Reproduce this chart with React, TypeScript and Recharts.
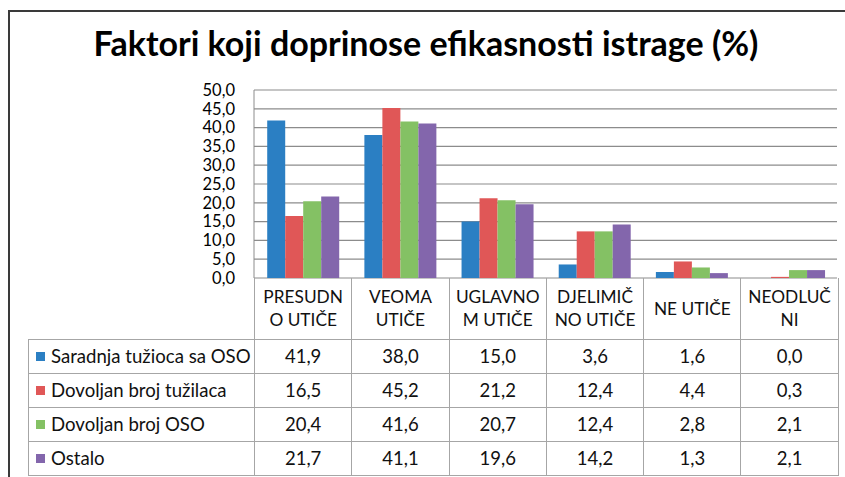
import React from 'react';
import { BarChart, Bar, XAxis, YAxis, CartesianGrid } from 'recharts';

const categories = ['PRESUDNO UTIČE', 'VEOMA UTIČE', 'UGLAVNOM UTIČE', 'DJELIMIČNO UTIČE', 'NE UTIČE', 'NEODLUČNI'];
const categoryLines = [
  ['PRESUDN', 'O UTIČE'],
  ['VEOMA', 'UTIČE'],
  ['UGLAVNO', 'M UTIČE'],
  ['DJELIMIČ', 'NO UTIČE'],
  ['NE UTIČE'],
  ['NEODLUČ', 'NI'],
];
const seriesNames = ['Saradnja tužioca sa OSO', 'Dovoljan broj tužilaca', 'Dovoljan broj OSO', 'Ostalo'];
const saradnja = [41.9, 38.0, 15.0, 3.6, 1.6, 0.0];
const tuzilaca = [16.5, 45.2, 21.2, 12.4, 4.4, 0.3];
const oso = [20.4, 41.6, 20.7, 12.4, 2.8, 2.1];
const ostalo = [21.7, 41.1, 19.6, 14.2, 1.3, 2.1];
const yTicks = [0, 5, 10, 15, 20, 25, 30, 35, 40, 45, 50];

const seriesValues = [saradnja, tuzilaca, oso, ostalo];
const colors = ['#2B7FC3', '#E05757', '#84C164', '#8366AC'];
const keys = ['s0', 's1', 's2', 's3'];

const data = categories.map((c, i) => ({
  name: c,
  s0: saradnja[i],
  s1: tuzilaca[i],
  s2: oso[i],
  s3: ostalo[i],
}));

const fmt = (v: number) => v.toFixed(1).replace('.', ',');
const font = 'Lato, "Open Sans", sans-serif';
const line = '1px solid #a6a6a6';

export default function App() {
  return (
    <div style={{ position: 'absolute', left: 0, top: 0, width: 845, height: 477, background: '#fff', overflow: 'hidden', fontFamily: font }}>
      <div style={{ position: 'absolute', left: 8, top: 10, width: 900, height: 500, border: '2px solid #3a3a3a' }} />
      <div style={{ position: 'absolute', left: 0, top: 22, width: 852, textAlign: 'center', fontSize: 34, fontWeight: 700, color: '#000' }}>
        Faktori koji doprinose efikasnosti istrage (%)
      </div>
      <div style={{ position: 'absolute', left: 0, top: 0 }}>
        <BarChart
          width={845}
          height={477}
          data={data}
          margin={{ top: 90, right: 8, bottom: 199, left: 194 }}
          barCategoryGap="13.6%"
          barGap={0}
        >
          <CartesianGrid vertical={false} stroke="#8c8c8c" strokeWidth={1.2} />
          <XAxis dataKey="name" height={0} tick={false} tickLine={false} axisLine={{ stroke: '#8c8c8c' }} />
          <YAxis
            width={60}
            domain={[0, 50]}
            ticks={yTicks}
            interval={0}
            tickFormatter={fmt}
            tickSize={0}
            tickMargin={19}
            axisLine={{ stroke: '#8c8c8c' }}
            tick={{ fill: '#000', fontSize: 16.5, fontFamily: font }}
          />
          {keys.map((k, i) => (
            <Bar key={k} dataKey={k} fill={colors[i]} isAnimationActive={false} />
          ))}
        </BarChart>
      </div>
      <table
        style={{
          position: 'absolute',
          left: 28,
          top: 278,
          width: 810,
          borderCollapse: 'collapse',
          tableLayout: 'fixed',
          fontFamily: font,
          color: '#111',
        }}
      >
        <colgroup>
          <col style={{ width: 226 }} />
          {categories.map((c) => (
            <col key={c} style={{ width: 97.3 }} />
          ))}
        </colgroup>
        <tbody>
          <tr style={{ height: 61 }}>
            <td style={{ padding: 0 }} />
            {categoryLines.map((ls, i) => (
              <td
                key={i}
                style={{ borderLeft: line, borderRight: line, padding: 0, textAlign: 'center', fontSize: 17.3, lineHeight: '23px', whiteSpace: 'nowrap' }}
              >
                {ls.map((l, j) => (
                  <div key={j}>{l}</div>
                ))}
              </td>
            ))}
          </tr>
          {seriesNames.map((s, si) => (
            <tr key={s} style={{ height: 34 }}>
              <td style={{ border: line, padding: '0 0 0 7px', fontSize: 18.6, whiteSpace: 'nowrap' }}>
                <span style={{ display: 'inline-block', width: 9, height: 9, background: colors[si], marginRight: 6, verticalAlign: 'middle', position: 'relative', top: -2 }} />
                {s}
              </td>
              {seriesValues[si].map((v, ci) => (
                <td key={ci} style={{ border: line, padding: 0, textAlign: 'center', fontSize: 18.5 }}>
                  {fmt(v)}
                </td>
              ))}
            </tr>
          ))}
        </tbody>
      </table>
    </div>
  );
}
